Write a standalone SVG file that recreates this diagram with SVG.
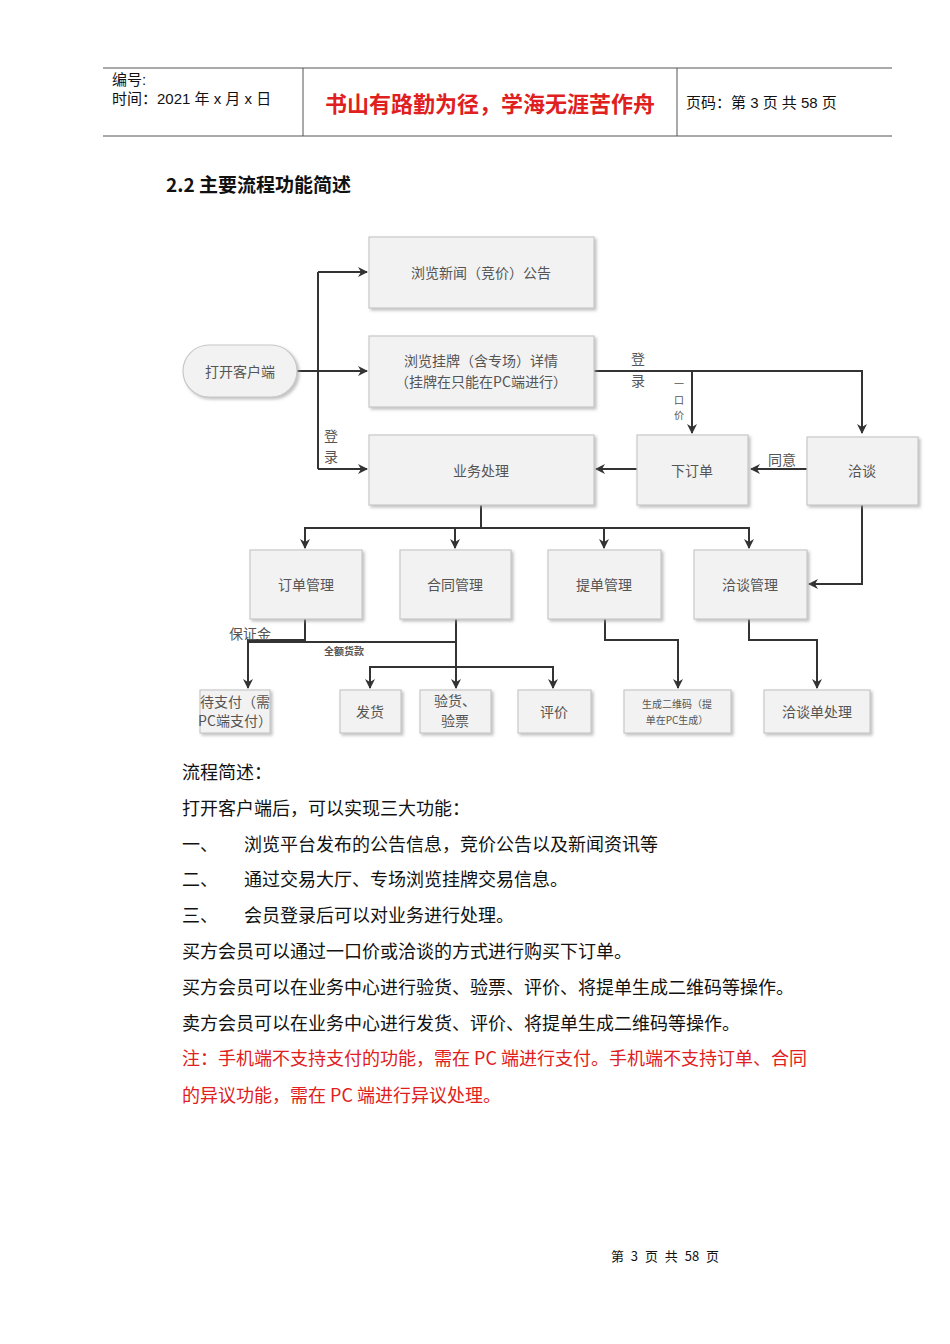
<svg xmlns="http://www.w3.org/2000/svg" width="950" height="1344" viewBox="0 0 950 1344">
<defs>
<marker id="ah" markerWidth="10" markerHeight="10" refX="9" refY="5" orient="auto" markerUnits="userSpaceOnUse"><path d="M0,0 L10,5 L0,10 L3,5 Z" fill="#333"/></marker>
<filter id="sh" x="-10%" y="-10%" width="130%" height="130%"><feDropShadow dx="2" dy="2" stdDeviation="1.5" flood-color="#999" flood-opacity="0.6"/></filter>
</defs>
<style>
.b{fill:#f2f2f2;stroke:#c8c8c8;stroke-width:1.2;filter:url(#sh)}
.t{font-family:"Noto Sans CJK SC","Liberation Serif",serif;font-size:14px;fill:#555;text-anchor:middle;dominant-baseline:central}
.s{font-size:10px}
.c{fill:none;stroke:#333;stroke-width:2}
.body{font-family:"Noto Sans CJK SC",sans-serif;font-size:18px;fill:#111}
.red{fill:#e02020}
.h{font-family:"Liberation Sans","Noto Sans CJK SC",sans-serif;font-size:15px;fill:#111}
</style>
<rect width="950" height="1344" fill="#fff"/>
<g id="header">
<line x1="103" y1="68" x2="892" y2="68" stroke="#555"/>
<line x1="103" y1="136" x2="892" y2="136" stroke="#555"/>
<line x1="303" y1="68" x2="303" y2="136" stroke="#555"/>
<line x1="677" y1="68" x2="677" y2="136" stroke="#555"/>
<text x="112" y="85" class="h">编号:</text>
<text x="112" y="104" class="h">时间：2021 年 x 月 x 日</text>
<text x="490" y="112" font-family="Noto Sans CJK SC,sans-serif" font-size="22" font-weight="bold" fill="#e02020" text-anchor="middle">书山有路勤为径，学海无涯苦作舟</text>
<text x="686" y="108" class="h">页码：第 3 页  共 58 页</text>
</g>
<text x="166" y="192" font-family="Noto Sans CJK SC,sans-serif" font-size="19" font-weight="bold" fill="#111">2.2  主要流程功能简述</text>
<g id="connectors">
<path class="c" d="M297,371 H318 M318,272 V469 M318,272 H367" marker-end="url(#ah)"/>
<path class="c" d="M318,371 H367" marker-end="url(#ah)"/>
<path class="c" d="M318,469 H367" marker-end="url(#ah)"/>
<path class="c" d="M594,371 H862 V433" marker-end="url(#ah)"/>
<path class="c" d="M692,371 V433" marker-end="url(#ah)"/>
<path class="c" d="M807,469 H751" marker-end="url(#ah)"/>
<path class="c" d="M637,469 H596" marker-end="url(#ah)"/>
<path class="c" d="M481,505 V528 H305 V548" marker-end="url(#ah)"/>
<path class="c" d="M481,528 H749 V548" marker-end="url(#ah)"/>
<path class="c" d="M455,528 V548" marker-end="url(#ah)"/>
<path class="c" d="M604,528 V548" marker-end="url(#ah)"/>
<path class="c" d="M862,505 V584 H809" marker-end="url(#ah)"/>
<path class="c" d="M305,619 V640 H248 V688" marker-end="url(#ah)"/>
<path class="c" stroke-width="3" d="M248,642 H456"/>
<path class="c" d="M456,619 V688" marker-end="url(#ah)"/>
<path class="c" d="M456,667 H370 V688" marker-end="url(#ah)"/>
<path class="c" d="M456,667 H553 V688" marker-end="url(#ah)"/>
<path class="c" d="M605,619 V640 H678 V688" marker-end="url(#ah)"/>
<path class="c" d="M749,619 V640 H817 V688" marker-end="url(#ah)"/>
<text x="331" y="435" class="t">登</text><text x="331" y="456" class="t">录</text>
<text x="638" y="358" class="t">登</text><text x="638" y="380" class="t">录</text>
<text x="679" y="383" class="t s">一</text><text x="679" y="399" class="t s">口</text><text x="679" y="414" class="t s">价</text>
<text x="782" y="459" class="t">同意</text>
<text x="250" y="633" class="t">保证金</text>
<text x="344" y="650" class="t s" font-weight="bold" fill="#333">全额货款</text>
</g>
<g id="n_news"><rect class="b" x="369" y="237" width="225" height="71"/><text x="481" y="272" class="t">浏览新闻（竞价）公告</text></g>
<g id="n_list"><rect class="b" x="369" y="336" width="225" height="71"/><text x="481" y="360" class="t">浏览挂牌（含专场）详情</text><text x="481" y="381" class="t">（挂牌在只能在PC端进行）</text></g>
<g id="n_open"><rect class="b" x="183" y="345" width="114" height="52" rx="26"/><text x="240" y="371" class="t">打开客户端</text></g>
<g id="n_biz"><rect class="b" x="369" y="435" width="225" height="70"/><text x="481" y="470" class="t">业务处理</text></g>
<g id="n_order"><rect class="b" x="637" y="435" width="111" height="70"/><text x="692" y="470" class="t">下订单</text></g>
<g id="n_nego"><rect class="b" x="807" y="437" width="111" height="68"/><text x="862" y="470" class="t">洽谈</text></g>
<g id="n_om"><rect class="b" x="250" y="550" width="112" height="69"/><text x="306" y="584" class="t">订单管理</text></g>
<g id="n_cm"><rect class="b" x="400" y="550" width="111" height="69"/><text x="455" y="584" class="t">合同管理</text></g>
<g id="n_bm"><rect class="b" x="548" y="550" width="113" height="69"/><text x="604" y="584" class="t">提单管理</text></g>
<g id="n_nm"><rect class="b" x="694" y="550" width="113" height="69"/><text x="750" y="584" class="t">洽谈管理</text></g>
<g id="n_pay"><rect class="b" x="200" y="690" width="70" height="43"/><text x="235" y="701" class="t" font-size="13">待支付（需</text><text x="235" y="720" class="t" font-size="12">PC端支付）</text></g>
<g id="n_ship"><rect class="b" x="340" y="690" width="61" height="43"/><text x="370" y="711" class="t">发货</text></g>
<g id="n_check"><rect class="b" x="420" y="690" width="71" height="43"/><text x="455" y="700" class="t">验货、</text><text x="455" y="720" class="t">验票</text></g>
<g id="n_eval"><rect class="b" x="518" y="690" width="73" height="43"/><text x="554" y="711" class="t">评价</text></g>
<g id="n_qr"><rect class="b" x="624" y="690" width="107" height="43"/><text x="677" y="703" class="t s">生成二维码（提</text><text x="677" y="719" class="t s">单在PC生成）</text></g>
<g id="n_ntd"><rect class="b" x="764" y="690" width="106" height="43"/><text x="817" y="711" class="t">洽谈单处理</text></g>
<g id="text">
<text x="182" y="779" class="body">流程简述：</text>
<text x="182" y="815" class="body">打开客户端后，可以实现三大功能：</text>
<text x="182" y="851" class="body">一、</text><text x="244" y="851" class="body">浏览平台发布的公告信息，竞价公告以及新闻资讯等</text>
<text x="182" y="886" class="body">二、</text><text x="244" y="886" class="body">通过交易大厅、专场浏览挂牌交易信息。</text>
<text x="182" y="922" class="body">三、</text><text x="244" y="922" class="body">会员登录后可以对业务进行处理。</text>
<text x="182" y="958" class="body">买方会员可以通过一口价或洽谈的方式进行购买下订单。</text>
<text x="182" y="994" class="body">买方会员可以在业务中心进行验货、验票、评价、将提单生成二维码等操作。</text>
<text x="182" y="1030" class="body">卖方会员可以在业务中心进行发货、评价、将提单生成二维码等操作。</text>
<text x="182" y="1065" class="body red">注：手机端不支持支付的功能，需在 PC 端进行支付。手机端不支持订单、合同</text>
<text x="182" y="1102" class="body red">的异议功能，需在 PC 端进行异议处理。</text>
<text x="665" y="1261" font-family="Noto Sans CJK SC,sans-serif" font-size="13" fill="#111" text-anchor="middle" word-spacing="4">第 3 页 共 58 页</text>
</g>
</svg>
